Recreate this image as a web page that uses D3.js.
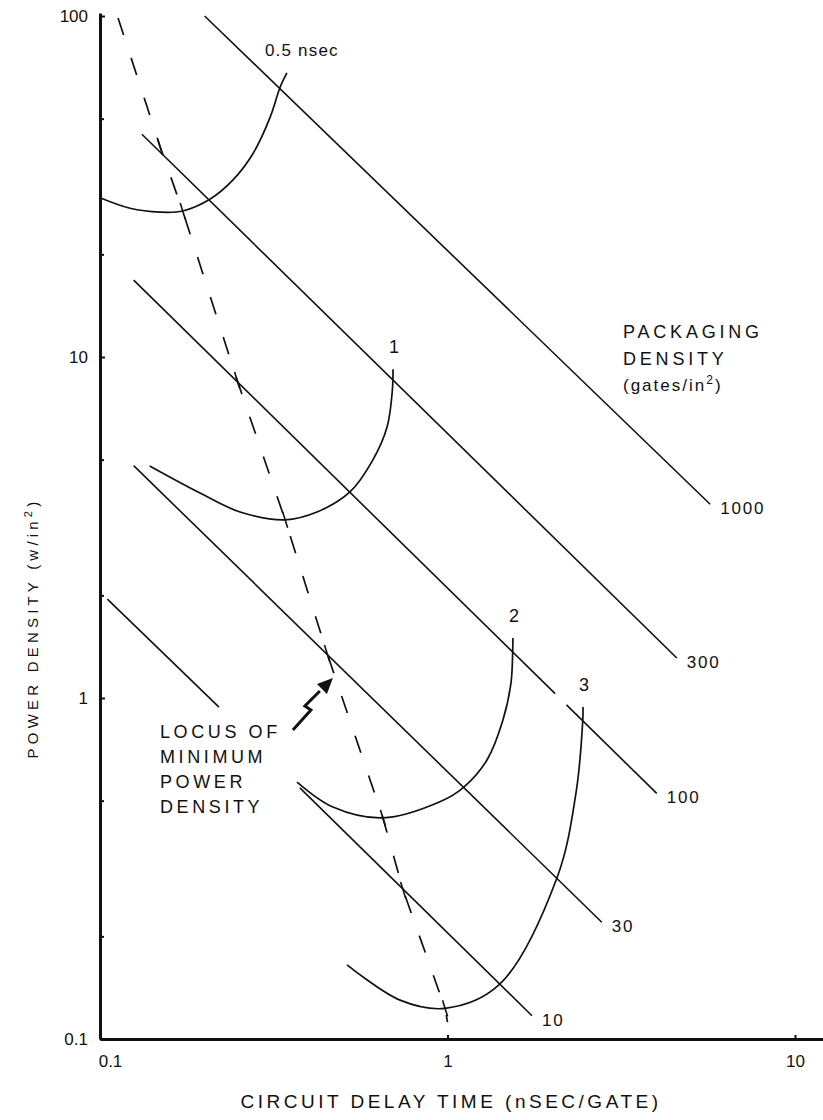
<!DOCTYPE html>
<html>
<head>
<meta charset="utf-8">
<script src="https://cdn.jsdelivr.net/npm/d3@7"></script>
<style>
  html, body { margin: 0; padding: 0; background: #fff; }
  svg { display: block; }
  text { font-family: "Liberation Sans", "DejaVu Sans", sans-serif; fill: #111; }
</style>
</head>
<body>
<svg id="chart" width="823" height="1120"></svg>
<script>
// Constant packaging-density lines, [delay ns, power density] endpoints per segment
const densityLabels = ["1000", "300", "100", "30", "10"];
const line1000 = [[[0.2, 100], [5.7, 3.7]]];
const line300 = [[[0.132, 45], [4.57, 1.31]]];
const line100 = [[[0.125, 16.8], [2.04, 1.03]], [[2.2, 0.955], [4.0, 0.525]]];
const line30 = [[[0.125, 4.8], [2.78, 0.22]]];
const line10 = [[[0.105, 1.95], [0.22, 0.94]], [[0.376, 0.545], [1.75, 0.117]]];

// Curves of constant gate delay
const curveLabels = ["0.5 nsec", "1", "2", "3"];
const curve05 = [[0.1, 29.3], [0.122, 27.3], [0.149, 26.6], [0.173, 26.8], [0.207, 29.0],
  [0.241, 33.0], [0.276, 39.6], [0.309, 50.6], [0.330, 61.9], [0.345, 68.1]];
const curve1 = [[0.139, 4.79], [0.194, 3.99], [0.253, 3.51], [0.341, 3.33], [0.421, 3.51],
  [0.524, 4.02], [0.610, 4.99], [0.670, 6.23], [0.694, 8.0], [0.697, 9.2]];
const curve2 = [[0.369, 0.567], [0.468, 0.479], [0.652, 0.445], [0.951, 0.496], [1.108, 0.545],
  [1.299, 0.658], [1.444, 0.862], [1.523, 1.107], [1.54, 1.36], [1.543, 1.50]];
const curve3 = [[0.514, 0.165], [0.730, 0.130], [0.984, 0.123], [1.406, 0.144],
  [2.066, 0.297], [2.343, 0.527], [2.45, 0.856], [2.455, 0.941]];

// Locus of minimum power density (dashed) and its crossing marks
const locus = [[0.1127, 98.7], [0.149, 41.3], [0.173, 26.8], [0.248, 8.56], [0.341, 3.33],
  [0.450, 1.355], [0.652, 0.445], [0.745, 0.2735], [0.984, 0.123], [1.0, 0.112]];
const locusMarks = [[0.149, 41.3], [0.173, 26.8], [0.248, 8.56], [0.341, 3.33],
  [0.450, 1.355], [0.652, 0.445], [0.745, 0.2735], [0.984, 0.123]];

// Axes
const xTicks = [0.1, 1, 10];
const xTickLabels = ["0.1", "1", "10"];
const yTicks = [0.1, 1, 10, 100];
const yTickLabels = ["0.1", "1", "10", "100"];
const yMinorTicks = [0.2, 0.5, 2, 5, 20, 50];

const svg = d3.select("#chart");
const ink = "#111";

const x = d3.scaleLog().domain([0.1, 10]).range([100, 795]);
const y = d3.scaleLog().domain([0.1, 100]).range([1039, 16]);

// y axis
const yAxisScale = y.copy().domain([0.1, y.invert(13)]).range([1039, 13]);
const yAxis = svg.append("g").attr("transform", "translate(100,0)")
  .call(d3.axisLeft(yAxisScale)
    .tickValues(yTicks)
    .tickSizeInner(-5)
    .tickSizeOuter(0)
    .tickPadding(12)
    .tickFormat((d, i) => yTickLabels[i]));
yAxis.select(".domain").attr("stroke", ink).attr("stroke-width", 3);
yAxis.selectAll(".tick line").attr("stroke", ink).attr("stroke-width", 2);
yAxis.selectAll(".tick text").attr("font-size", 17).attr("fill", ink)
  .attr("font-family", "Liberation Sans");

svg.append("g").attr("transform", "translate(100,0)")
  .call(d3.axisLeft(y).tickValues(yMinorTicks).tickSize(-4).tickFormat(""))
  .call(g => g.select(".domain").remove())
  .selectAll(".tick line").attr("stroke", ink).attr("stroke-width", 2);

// x axis
const xAxisScale = x.copy().domain([0.1, x.invert(823)]).range([100, 823]);
const xAxis = svg.append("g").attr("transform", "translate(0,1039)")
  .call(d3.axisBottom(xAxisScale)
    .tickValues(xTicks)
    .tickSizeInner(-4)
    .tickSizeOuter(0)
    .tickPadding(16)
    .tickFormat((d, i) => xTickLabels[i]));
xAxis.select(".domain").attr("stroke", ink).attr("stroke-width", 3);
xAxis.selectAll(".tick line").attr("stroke", ink).attr("stroke-width", 2);
xAxis.selectAll(".tick text").attr("font-size", 17).attr("fill", ink)
  .attr("font-family", "Liberation Sans");
xAxis.selectAll(".tick").filter(d => d === 0.1).select("text").attr("dx", 10);

// axis titles
svg.append("text")
  .attr("transform", "translate(38,628) rotate(-90)")
  .attr("text-anchor", "middle")
  .attr("font-size", 15)
  .attr("letter-spacing", 4.2)
  .html("POWER DENSITY (w/in<tspan dy='-6' font-size='11'>2</tspan><tspan dy='6'>)</tspan>");

svg.append("text")
  .attr("x", 451).attr("y", 1108)
  .attr("text-anchor", "middle")
  .attr("font-size", 19)
  .attr("letter-spacing", 3.5)
  .text("CIRCUIT DELAY TIME (nSEC/GATE)");

const plot = svg.append("g");
const pathLine = d3.line().x(d => x(d[0])).y(d => y(d[1]));
const smooth = d3.line().x(d => x(d[0])).y(d => y(d[1])).curve(d3.curveCatmullRom.alpha(0.5));

// density lines
const densityLines = [line1000, line300, line100, line30, line10];
densityLines.forEach((segments, i) => {
  segments.forEach(seg => {
    plot.append("path")
      .attr("d", pathLine(seg))
      .attr("fill", "none")
      .attr("stroke", ink)
      .attr("stroke-width", 1.6);
  });
  const end = segments[segments.length - 1][1];
  plot.append("text")
    .attr("x", x(end[0]) + 10)
    .attr("y", y(end[1]) + 10)
    .attr("font-size", 17)
    .attr("letter-spacing", 1.8)
    .text(densityLabels[i]);
});

// delay curves
const curves = [curve05, curve1, curve2, curve3];
curves.forEach(pts => {
  plot.append("path")
    .attr("d", smooth(pts))
    .attr("fill", "none")
    .attr("stroke", ink)
    .attr("stroke-width", 1.7);
});

// curve labels
const top05 = curve05[curve05.length - 1];
plot.append("text")
  .attr("x", x(top05[0]) - 22).attr("y", y(top05[1]) - 17)
  .attr("font-size", 17).attr("letter-spacing", 1.2)
  .text(curveLabels[0]);
[curve1, curve2, curve3].forEach((pts, i) => {
  const top = pts[pts.length - 1];
  plot.append("text")
    .attr("x", x(top[0]) + 1).attr("y", y(top[1]) - 16)
    .attr("text-anchor", "middle")
    .attr("font-size", 18)
    .text(curveLabels[i + 1]);
});

// locus (dashed)
plot.append("path")
  .attr("d", pathLine(locus))
  .attr("fill", "none")
  .attr("stroke", ink)
  .attr("stroke-width", 1.7)
  .attr("stroke-dasharray", "18,24");

plot.selectAll(".locus-mark")
  .data(locusMarks)
  .join("line")
  .attr("class", "locus-mark")
  .attr("x1", d => x(d[0]) - 2.5).attr("y1", d => y(d[1]) - 8)
  .attr("x2", d => x(d[0]) + 2.5).attr("y2", d => y(d[1]) + 8)
  .attr("stroke", ink)
  .attr("stroke-width", 1.6);

// packaging density legend text
const pk = svg.append("g").attr("font-size", 18).attr("letter-spacing", 3.8);
pk.append("text").attr("x", 623).attr("y", 338).text("PACKAGING");
pk.append("text").attr("x", 623).attr("y", 365).text("DENSITY");
pk.append("text").attr("x", 623).attr("y", 391).attr("font-size", 17).attr("letter-spacing", 2)
  .html("(gates/in<tspan dy='-7' font-size='12'>2</tspan><tspan dy='7'>)</tspan>");

// locus annotation
const locusText = ["LOCUS OF", "MINIMUM", "POWER", "DENSITY"];
svg.append("g").attr("font-size", 18).attr("letter-spacing", 3.6)
  .selectAll("text").data(locusText).join("text")
  .attr("x", 160).attr("y", (d, i) => 738 + i * 25)
  .text(d => d);

// lightning arrow pointing to the locus
const arrowTail = [0.359, 0.806];
const arrowTip = [0.468, 1.145];
const ax0 = x(arrowTail[0]), ay0 = y(arrowTail[1]);
const ax1 = x(arrowTip[0]), ay1 = y(arrowTip[1]);
svg.append("path")
  .attr("d", `M${ax0},${ay0} L${ax0 + 18},${ay0 - 20} L${ax0 + 12},${ay0 - 24} L${ax0 + 27},${ay0 - 39}`)
  .attr("fill", "none").attr("stroke", ink).attr("stroke-width", 3);
svg.append("path")
  .attr("d", `M${ax1},${ay1} L${ax1 - 16},${ay1 + 6} L${ax1 - 6},${ay1 + 16} Z`)
  .attr("fill", ink);
</script>
</body>
</html>
